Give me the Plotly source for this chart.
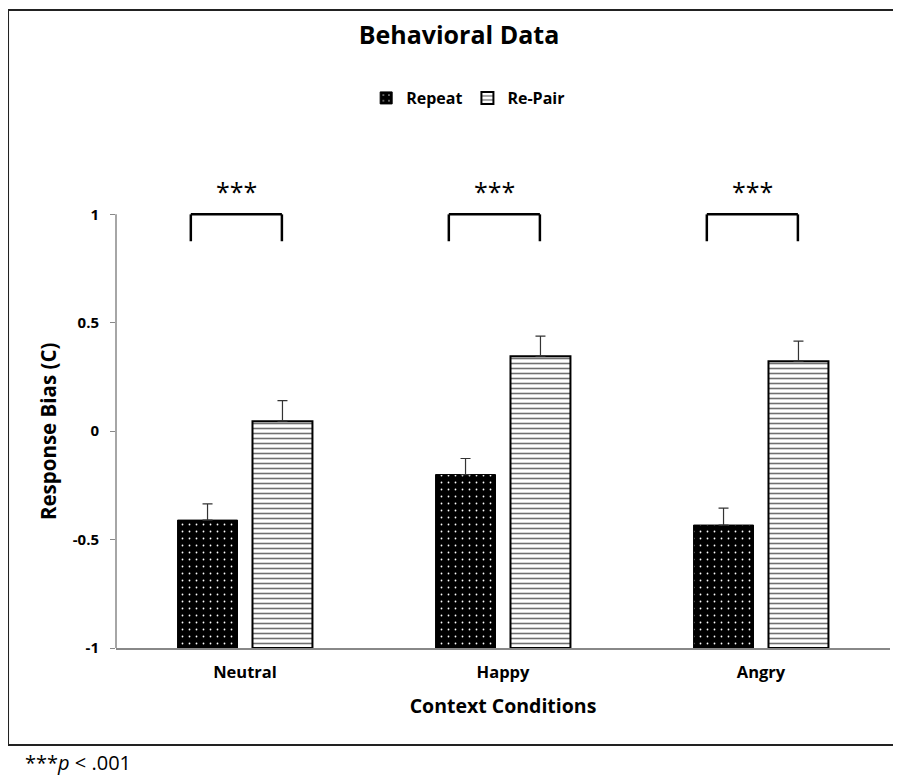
import plotly.graph_objects as go

categories = ["Neutral", "Happy", "Angry"]
repeat_vals = [-0.41, -0.20, -0.433]
repeat_err = [0.075, 0.074, 0.078]
repair_vals = [0.046, 0.346, 0.323]
repair_err = [0.095, 0.092, 0.092]
sig_labels = ["***", "***", "***"]
y_ticks = [-1, -0.5, 0, 0.5, 1]
y_tick_text = ["-1", "-0.5", "0", "0.5", "1"]

FONT = "Open Sans"
BASE = y_ticks[0]

fig = go.Figure()
fig.add_trace(go.Bar(
    name="Repeat", x=categories, y=[v - BASE for v in repeat_vals], base=BASE,
    marker=dict(color="black", line=dict(color="black", width=1),
                pattern=dict(shape=".", fgcolor="white", bgcolor="black",
                             size=7, solidity=0.05, fillmode="replace")),
    error_y=dict(type="data", array=repeat_err, arrayminus=[0, 0, 0],
                 symmetric=False, color="#333333", thickness=1.2, width=5),
))
fig.add_trace(go.Bar(
    name="Re-Pair", x=categories, y=[v - BASE for v in repair_vals], base=BASE,
    marker=dict(color="white", line=dict(color="black", width=2),
                pattern=dict(shape="-", fgcolor="#707070", bgcolor="white",
                             size=5, solidity=0.32, fillmode="replace")),
    error_y=dict(type="data", array=repair_err, arrayminus=[0, 0, 0],
                 symmetric=False, color="#333333", thickness=1.2, width=5),
))

shapes = []
# outer border
shapes.append(dict(type="rect", xref="paper", yref="paper",
                   x0=-0.1395, x1=1.05, y0=-0.2034, y1=1.3375,
                   line=dict(color="#222222", width=2), fillcolor="rgba(0,0,0,0)", layer="below"))
# y axis line (only from -1 to 1)
shapes.append(dict(type="line", xref="paper", yref="y", x0=0, x1=0,
                   y0=y_ticks[0], y1=y_ticks[-1], line=dict(color="#888888", width=1.5)))

annotations = []
for i, lab in enumerate(sig_labels):
    xl, xr = i - 0.21, i + 0.143
    ytop, yleg = 1.0, 0.876
    shapes.append(dict(type="line", xref="x", yref="y", x0=xl, x1=xr, y0=ytop, y1=ytop,
                       line=dict(color="black", width=2.5)))
    shapes.append(dict(type="line", xref="x", yref="y", x0=xl, x1=xl, y0=ytop, y1=yleg,
                       line=dict(color="black", width=2.5)))
    shapes.append(dict(type="line", xref="x", yref="y", x0=xr, x1=xr, y0=ytop, y1=yleg,
                       line=dict(color="black", width=2.5)))
    annotations.append(dict(x=(xl + xr) / 2, y=1.11, xref="x", yref="y", text=lab,
                            showarrow=False, font=dict(family=FONT, size=25, color="black")))

# y-axis title, centred on the -1..1 span
annotations.append(dict(x=-0.088, y=(y_ticks[0] + y_ticks[-1]) / 2, xref="paper", yref="y",
                        text="<b>Response Bias (C)</b>", textangle=-90, showarrow=False,
                        xanchor="center", yanchor="middle",
                        font=dict(family=FONT, size=20.5, color="black")))

annotations.append(dict(x=-0.12, y=-0.239, xref="paper", yref="paper",
                        text="***<i>p</i> < .001", showarrow=False, xanchor="left", yanchor="middle",
                        font=dict(family=FONT, size=20, color="black")))

fig.update_layout(
    width=893, height=770,
    margin=dict(l=108, r=11, t=163, b=130),
    paper_bgcolor="white", plot_bgcolor="white",
    barmode="group", bargap=0.419, bargroupgap=0.2,
    title=dict(text="<b>Behavioral Data</b>", x=0.505, xanchor="center",
               y=1 - 27 / 770, yanchor="middle",
               font=dict(family=FONT, size=25, color="black")),
    legend=dict(orientation="h", x=0.455, xanchor="center", y=1.153, yanchor="middle",
                font=dict(family=FONT, size=16, color="black"), itemwidth=30,
                traceorder="normal"),
    font=dict(family=FONT, color="black"),
    xaxis=dict(showline=True, linecolor="#888888", linewidth=1.5, ticks="",
               tickfont=dict(family=FONT, size=16.5, color="black"),
               tickprefix="<b>", ticksuffix="</b>", ticklabelstandoff=8,
               title=dict(text="<b>Context Conditions</b>", standoff=18,
                          font=dict(family=FONT, size=19.5, color="black")),
               showgrid=False, zeroline=False, automargin=False),
    yaxis=dict(range=[-1, 1.2], tickvals=y_ticks, ticktext=["<b>%s</b>" % t for t in y_tick_text],
               ticks="outside", ticklen=5, tickcolor="#888888", showline=False,
               ticklabelstandoff=8,
               tickfont=dict(family=FONT, size=15, color="black"),
               showgrid=False, zeroline=False, automargin=False),
    shapes=shapes, annotations=annotations,
)
fig.for_each_trace(lambda t: t.update(name="<b>%s</b>" % t.name))

fig.write_html("out.html")
